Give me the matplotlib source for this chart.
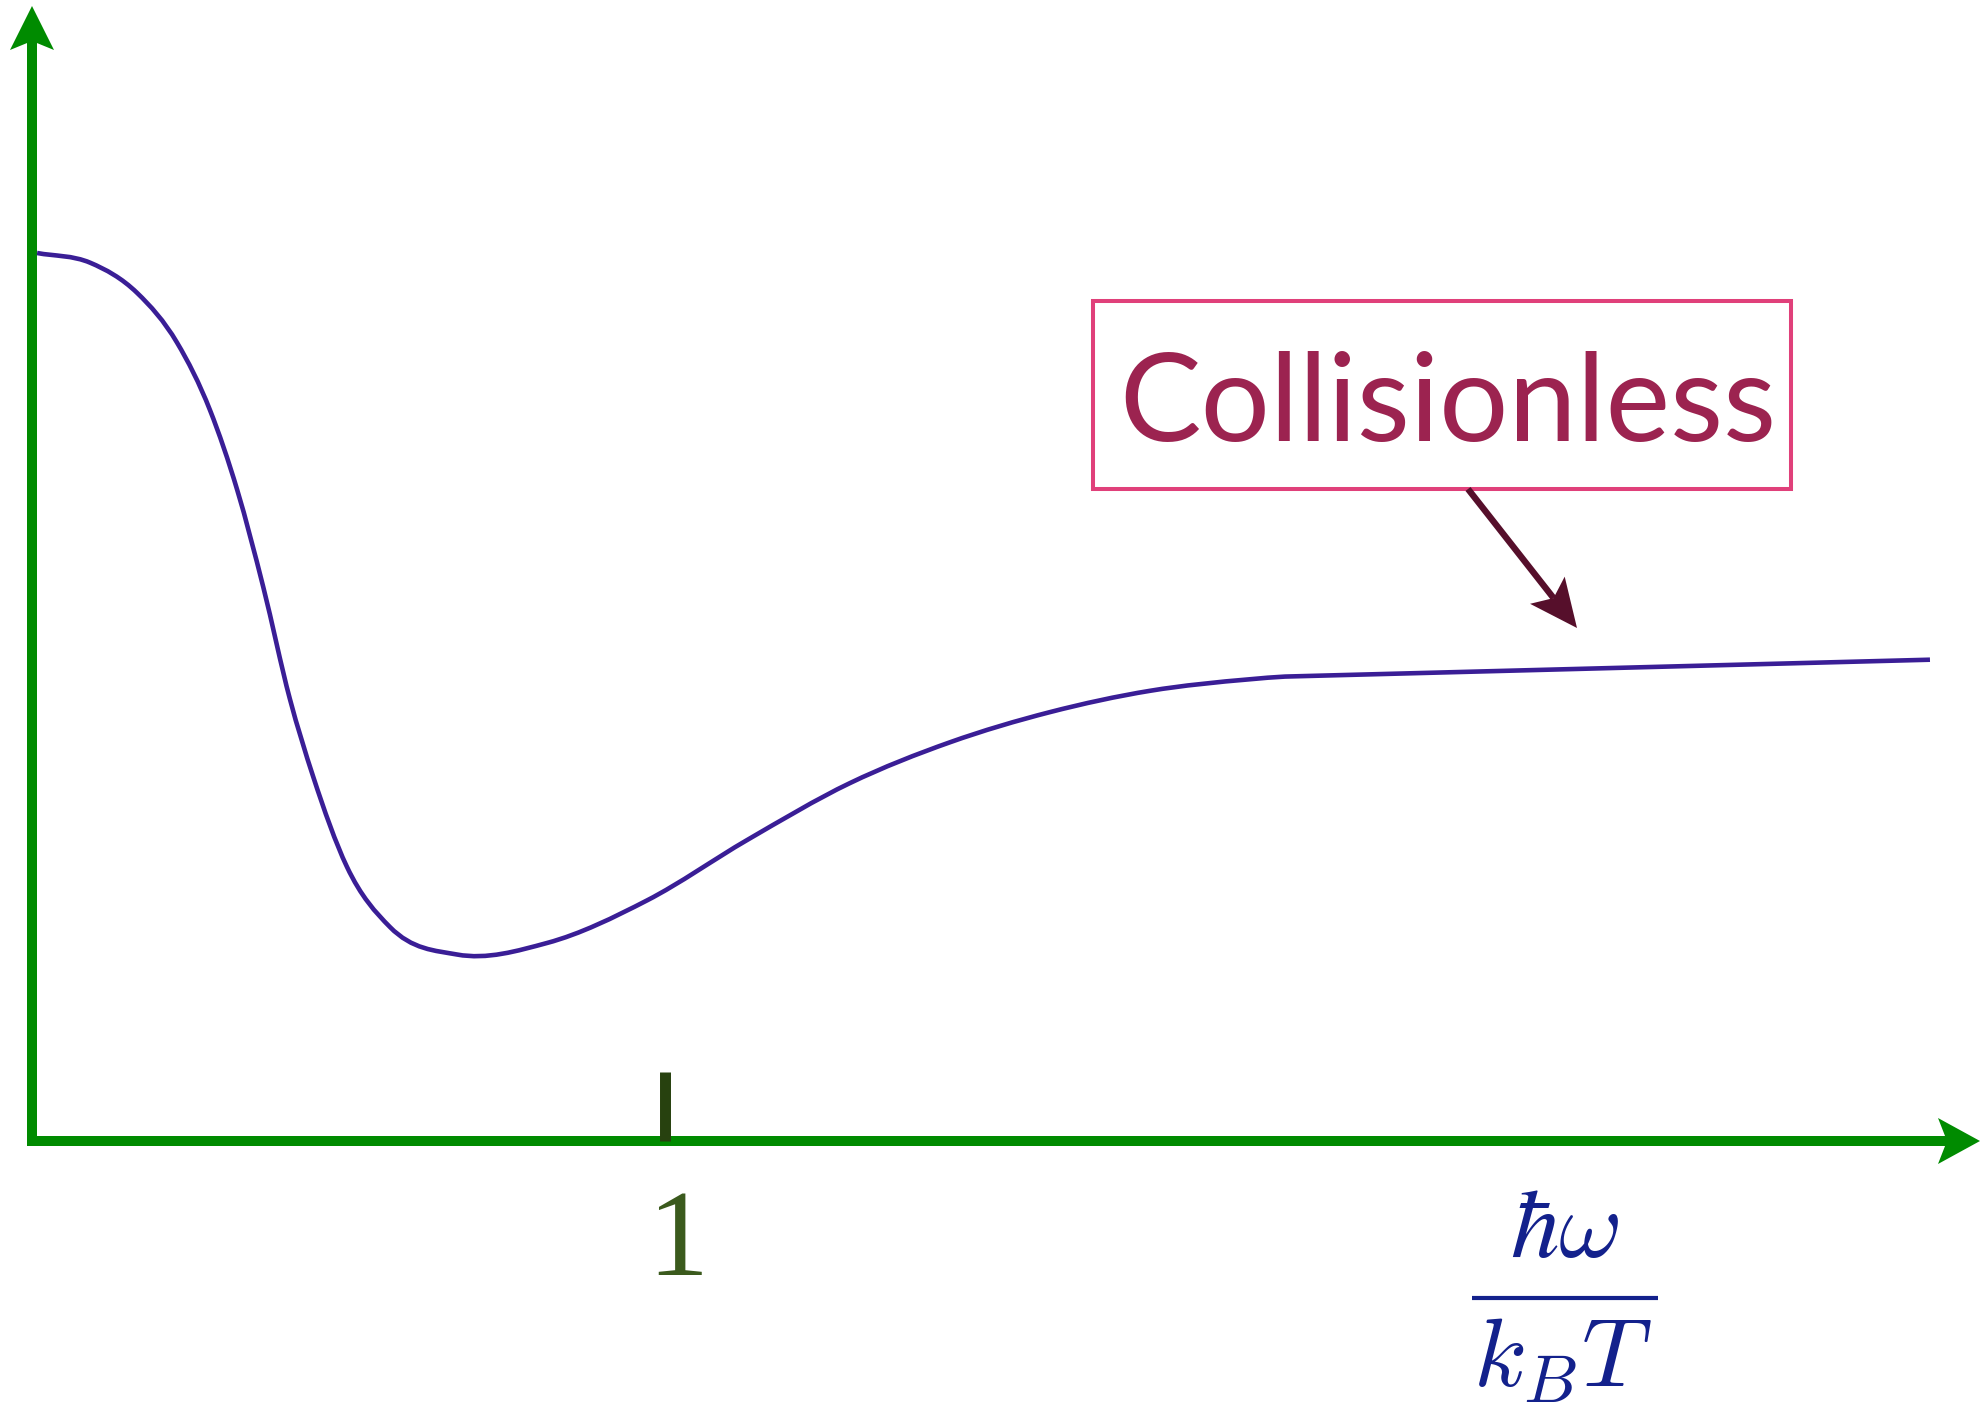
import matplotlib
matplotlib.use('Agg')
import matplotlib.pyplot as plt
from matplotlib.patches import Polygon, Rectangle, PathPatch
from matplotlib.path import Path
import numpy as np

# response curve
# x in units of hbar*omega/(k_B T), y relative to the value at omega = 0
x_vals = [0.008, 0.092, 0.166, 0.229, 0.281, 0.324, 0.365, 0.407, 0.444, 0.497,
          0.565, 0.671, 0.813, 0.971, 1.129, 1.291, 1.449, 1.607, 1.765, 1.923,
          1.978, 2.996]
y_vals = [1.000, 0.989, 0.955, 0.899, 0.823, 0.733, 0.624, 0.498, 0.410, 0.309,
          0.241, 0.210, 0.223, 0.271, 0.339, 0.403, 0.449, 0.483, 0.507, 0.520,
          0.523, 0.542]

tick_pos = [1.0]
tick_labels = ['1']
regime_label = 'Collisionless'
x_label_num = r'$\hbar\omega$'
x_label_den = r'$k_B T$'

W, H = 1981, 1405
X0, Y0 = 32.0, 1141.0      # origin in pixels (from top-left)
XU, YU = 633.5, 888.0      # pixels per data unit


def px(x, y):
    # pixel position (from top-left) -> data coordinates
    return ((x - X0) / XU, (Y0 - y) / YU)


def head(tip, tail, length, half, notch):
    # barbed arrow head, built in pixel space; notch = distance of the back notch from the tip
    tip = np.array(tip, float)
    d = tip - np.array(tail, float)
    u = d / np.hypot(*d)
    n = np.array([-u[1], u[0]])
    base = tip - length * u
    pts = [tip, base + half * n, tip - notch * u, base - half * n]
    return [px(*p) for p in pts], px(*(tip - notch * u))


def smooth_path(xs, ys):
    # smooth bezier through the read points; last stretch is a straight run
    xs, ys = np.asarray(xs, float), np.asarray(ys, float)
    h = np.diff(xs)
    d = np.diff(ys) / h
    m = np.empty_like(xs)
    m[0], m[-1] = d[0], d[-1]
    m[1:-1] = (d[:-1] * h[1:] + d[1:] * h[:-1]) / (h[:-1] + h[1:])
    m[-2] = 0.5 * (d[-2] + d[-1])
    verts = [(xs[0], ys[0])]
    codes = [Path.MOVETO]
    for i in range(len(xs) - 2):
        k = h[i] / 3
        verts += [(xs[i] + k, ys[i] + m[i] * k),
                  (xs[i + 1] - k, ys[i + 1] - m[i + 1] * k),
                  (xs[i + 1], ys[i + 1])]
        codes += [Path.CURVE4] * 3
    verts.append((xs[-1], ys[-1]))
    codes.append(Path.LINETO)
    return Path(verts, codes)


fig = plt.figure(figsize=(W / 100, H / 100), dpi=100)
ax = fig.add_axes([0, 0, 1, 1])
ax.set_xlim(-X0 / XU, (W - X0) / XU)
ax.set_ylim(-(H - Y0) / YU, Y0 / YU)
ax.axis('off')
plt.rcParams['mathtext.fontset'] = 'cm'

green = '#008b00'

# y axis
pts, neck = head((32, 6), (32, 1141), 44, 22, 35)
ax.plot([0, 0], [px(0, 1146)[1], neck[1]], color=green, lw=7.2, solid_capstyle='butt', zorder=2)
ax.add_patch(Polygon(pts, closed=True, color=green, lw=0, zorder=2))

# x axis
pts, neck = head((1980, 1141), (32, 1141), 42, 23, 33)
ax.plot([px(27, 0)[0], neck[0]], [0, 0], color=green, lw=7.2, solid_capstyle='butt', zorder=2)
ax.add_patch(Polygon(pts, closed=True, color=green, lw=0, zorder=2))

# tick and its label
for t, lab in zip(tick_pos, tick_labels):
    ax.plot([t, t], [0, 69 / YU], color='#27410f', lw=7.9, solid_capstyle='butt', zorder=3)
    ax.text(t + 12 / XU, -134 / YU, lab, color='#3b5a1d', fontsize=88,
            family='Liberation Serif', ha='center', va='baseline')

# axis label as a stacked fraction
lab_c = '#13218c'
ax.text(*px(1565, 1257), x_label_num, color=lab_c, fontsize=70, ha='center', va='baseline')
ax.plot([px(1472, 0)[0], px(1658, 0)[0]], [px(0, 1298)[1]] * 2, color=lab_c, lw=3.0,
        solid_capstyle='butt')
ax.text(*px(1563, 1386), x_label_den, color=lab_c, fontsize=70, ha='center', va='baseline')

# curve
ax.add_patch(PathPatch(smooth_path(x_vals, y_vals), fill=False, edgecolor='#3a1e96',
                       lw=3.3, zorder=4, capstyle='butt'))

# annotation box
bx, by = px(1093, 489)
ax.add_patch(Rectangle((bx, by), (1791 - 1093) / XU, (489 - 301) / YU,
                       fill=False, edgecolor='#e0407a', lw=2.9, zorder=5))
ax.text(*px(1448, 441), regime_label, color='#9c2350', fontsize=88,
        family='Lato', ha='center', va='baseline', zorder=5)

# pointer arrow
pts, neck = head((1577, 628), (1468, 489), 48, 22, 38)
start = px(1468, 489)
ax.plot([start[0], neck[0]], [start[1], neck[1]], color='#560f2b', lw=4.6,
        solid_capstyle='butt', zorder=5)
ax.add_patch(Polygon(pts, closed=True, color='#560f2b', lw=0, zorder=5))

plt.savefig('out.png', dpi=100)
